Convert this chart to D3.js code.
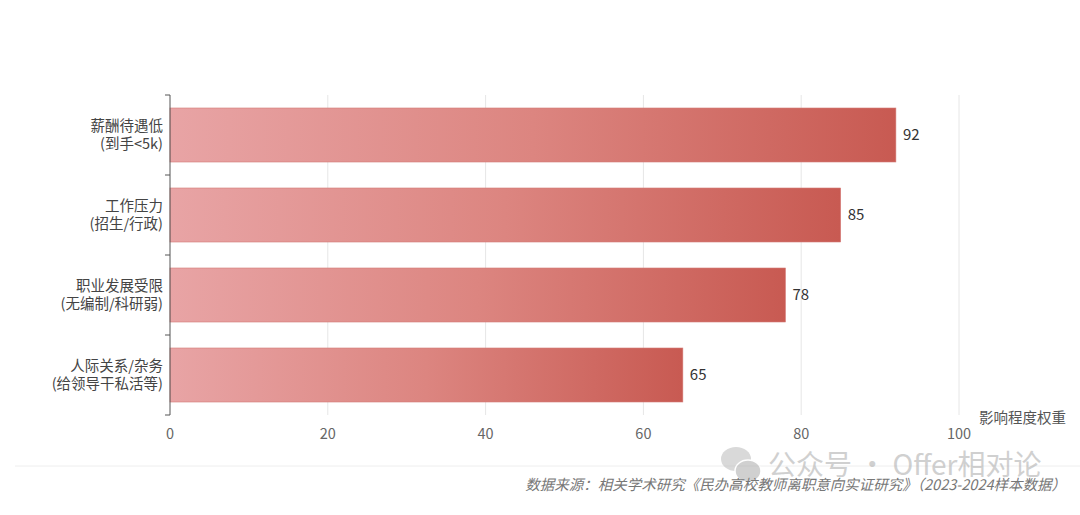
<!DOCTYPE html>
<html><head><meta charset="utf-8">
<script src="https://cdn.jsdelivr.net/npm/d3@7/dist/d3.min.js"></script>
<style>
html,body{margin:0;padding:0;background:#fff;}
svg{display:block;font-family:"Noto Sans CJK SC","Noto Sans",sans-serif;}
</style></head>
<body><svg id="c" width="1080" height="515"></svg>
<script>
const categories = [["薪酬待遇低","(到手<5k)"],["工作压力","(招生/行政)"],["职业发展受限","(无编制/科研弱)"],["人际关系/杂务","(给领导干私活等)"]];
const values = [92, 85, 78, 65];
const xTicks = [0, 20, 40, 60, 80, 100];
const axisTitle = "影响程度权重";
const sourceText = "数据来源：相关学术研究《民办高校教师离职意向实证研究》（2023-2024样本数据）";
const watermark = "公众号 · Offer相对论";

const svg = d3.select("#c");
const defs = svg.append("defs");
const g = defs.append("linearGradient").attr("id","grad").attr("x1","0").attr("x2","1").attr("y1","0").attr("y2","0");
g.append("stop").attr("offset","0%").attr("stop-color","#e8a4a5");
g.append("stop").attr("offset","50%").attr("stop-color","#dc8580");
g.append("stop").attr("offset","100%").attr("stop-color","#c85a52");

const x = d3.scaleLinear().domain([0,100]).range([170,959]);
const y = d3.scaleBand().domain(categories.map((d,i)=>i)).range([95,415]).paddingInner(0.325).paddingOuter(0.1625);

// grid
svg.append("g").selectAll("line").data(xTicks.slice(1)).join("line")
  .attr("x1",d=>x(d)).attr("x2",d=>x(d)).attr("y1",95).attr("y2",415)
  .attr("stroke","#e6e6e6").attr("stroke-width",1);

// bars
svg.append("g").selectAll("rect").data(values).join("rect")
  .attr("x",x(0)).attr("y",(d,i)=>y(i)).attr("width",d=>x(d)-x(0)).attr("height",y.bandwidth())
  .attr("fill","url(#grad)").attr("stroke","#d47a76").attr("stroke-width",0.6);

// value labels
svg.append("g").selectAll("text").data(values).join("text")
  .attr("x",d=>x(d)+7).attr("y",(d,i)=>y(i)+y.bandwidth()/2).attr("dy","0.35em")
  .attr("font-size",15).attr("fill","#333").text(d=>d);

// y axis
const yAxisBand = d3.scaleBand().domain(categories.map((d,i)=>i)).range([95,415]);
const ya = svg.append("g").attr("transform","translate(170,0)");
ya.append("line").attr("x1",0).attr("x2",0).attr("y1",95).attr("y2",415).attr("stroke","#555").attr("stroke-width",1);
const bounds = [95].concat(categories.map((d,i)=>yAxisBand(i)+yAxisBand.step()));
ya.selectAll("line.t").data(bounds).join("line").attr("class","t")
  .attr("x1",-5).attr("x2",0).attr("y1",d=>d).attr("y2",d=>d).attr("stroke","#555");
ya.selectAll("text.l1").data(categories).join("text").attr("class","l1")
  .attr("text-anchor","end").attr("font-size",14.5).attr("fill","#444")
  .attr("x",-7).attr("y",(d,i)=>y(i)+y.bandwidth()/2-4).text(d=>d[0]);
ya.selectAll("text.l2").data(categories).join("text").attr("class","l2")
  .attr("text-anchor","end").attr("font-size",14.5).attr("fill","#444")
  .attr("x",-7).attr("y",(d,i)=>y(i)+y.bandwidth()/2+14).text(d=>d[1]);

// x tick labels
svg.append("g").selectAll("text").data(xTicks).join("text")
  .attr("x",d=>x(d)).attr("y",439).attr("text-anchor","middle")
  .attr("font-size",14.5).attr("fill","#666").text(d=>d);

svg.append("text").attr("x",1066).attr("y",423).attr("text-anchor","end")
  .attr("font-size",14.5).attr("fill","#555").text(axisTitle);

// separator
svg.append("line").attr("x1",15).attr("x2",1080).attr("y1",466).attr("y2",466).attr("stroke","#eeeeee");

// watermark icon + text
const wm = svg.append("g").attr("opacity",0.55);
wm.append("ellipse").attr("cx",736).attr("cy",459).attr("rx",15).attr("ry",12).attr("fill","#bbb");
wm.append("ellipse").attr("cx",748).attr("cy",471).attr("rx",13).attr("ry",11).attr("fill","#aaa").attr("stroke","#fff").attr("stroke-width",1.5);
wm.append("text").attr("x",768).attr("y",475).attr("font-size",28).attr("fill","#aaa").text(watermark);

svg.append("text").attr("x",1066).attr("y",490).attr("text-anchor","end")
  .attr("font-size",14.5).attr("font-style","italic").attr("fill","#777").text(sourceText);
</script></body></html>
